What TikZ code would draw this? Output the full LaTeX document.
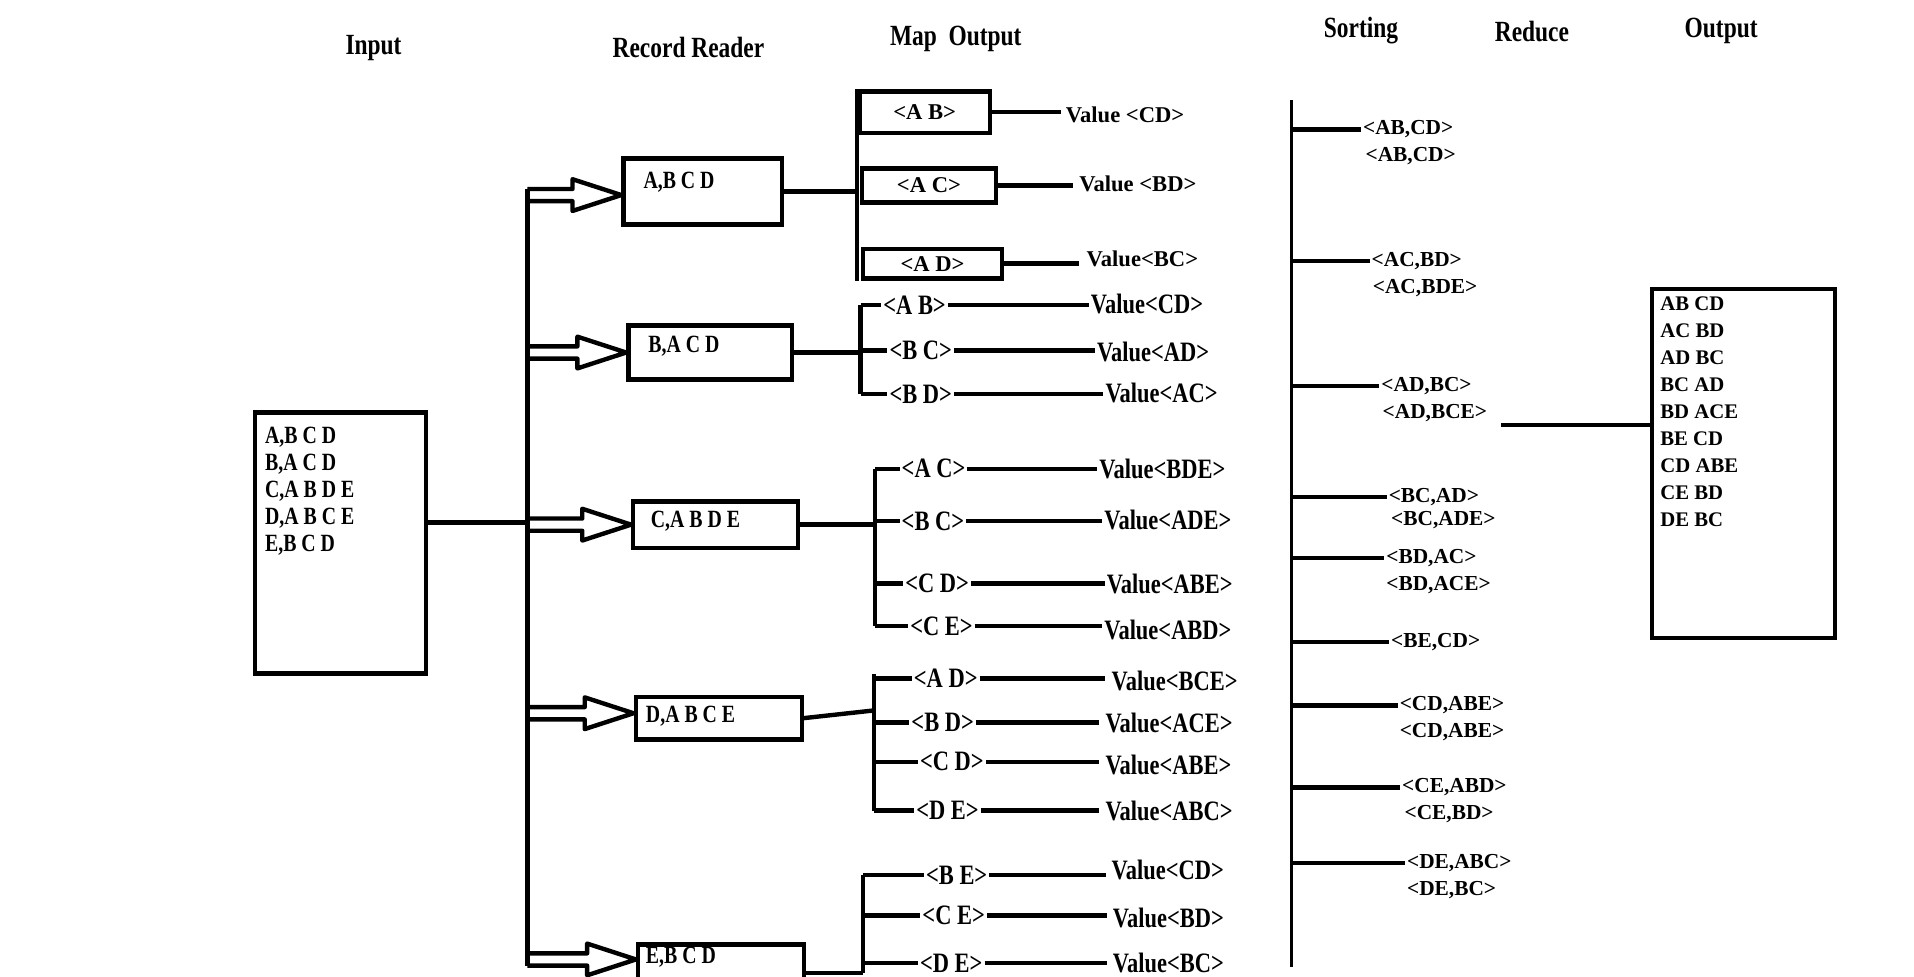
\documentclass[tikz,border=0pt]{standalone}
\usepackage{fontspec}
\setmainfont{Liberation Serif}
\newfontfamily\condf[FakeStretch=0.8]{Liberation Serif}
\usetikzlibrary{calc}
\begin{document}
\begin{tikzpicture}[x=1pt,y=-1pt,
  every node/.style={inner sep=0pt},
  ln/.style={line width=3.6pt},
  frame/.style={draw,line width=3.6pt},
  ttl/.style={font=\condf\bfseries\fontsize{24}{28}\selectfont},
  rec/.style={font=\condf\bfseries\fontsize{20.3}{22}\selectfont,anchor=west},
  kv/.style={font=\condf\bfseries\fontsize{23}{26}\selectfont,anchor=west,inner xsep=1.5pt},
  wd/.style={font=\bfseries\fontsize{18.5}{22}\selectfont},
  srt/.style={font=\bfseries\fontsize{17.5}{21}\selectfont,anchor=west,inner xsep=1.5pt},
  outt/.style={font=\bfseries\fontsize{17}{22.2}\selectfont}]
\useasboundingbox (0,0) rectangle (1568,800);
\fill[white] (0,0) rectangle (1568,800);

% titles
\node[ttl] (tIn) at (306,39) {Input};
\node[ttl] (tRR) at (564,39) {Record Reader};
\node[ttl] (tMO) at (783,32) {Map~~Output};
\node[ttl] (tSo) at (1115,25) {Sorting};
\node[ttl] (tRe) at (1255,26) {Reduce};
\node[ttl] (tOu) at (1410,25) {Output};

% input
\node[frame, minimum width=140pt, minimum height=214pt, anchor=north west] (inp) at (207,336) {};
\node[rec, anchor=north west, align=left] (inpT) at (217,350) {A,B C D\\B,A C D\\C,A B D E\\D,A B C E\\E,B C D};

\coordinate (trunk) at (432,428);
\coordinate (inJ) at ($(inp.north east)+(0,92)$);
\draw[ln] (inJ) -- (inJ -| trunk);

% record reader boxes
\node[frame, minimum width=130pt, minimum height=54pt, anchor=north west] (rA) at (509,128) {};
\node[rec] (rAt) at (527,149) {A,B C D};
\node[frame, minimum width=134pt, minimum height=44pt, anchor=north west] (rB) at (513,265) {};
\node[rec] (rBt) at (531,284) {B,A C D};
\node[frame, minimum width=135pt, minimum height=38pt, anchor=north west] (rC) at (517,409) {};
\node[rec] (rCt) at (533,427) {C,A B D E};
\node[frame, minimum width=136pt, minimum height=35pt, anchor=north west] (rD) at (519,569) {};
\node[rec] (rDt) at (529,587) {D,A B C E};
\node[frame, minimum width=136pt, minimum height=60pt, anchor=north west] (rE) at (521,772) {};
\node[rec] (rEt) at (529,784) {E,B C D};

% hollow arrows
\coordinate (tA) at ($(rA.west)+(0,3)$);
\coordinate (tB) at (rB.west);
\coordinate (tC) at (rC.west);
\coordinate (tD) at ($(rD.west)+(0,-4)$);
\coordinate (tE) at ($(rE.north west)+(0,14)$);
\newcommand\harrow[1]{\draw[ln,line join=round] ($(#1 -| trunk)+(0,-5)$) -- ($(#1)+(-40,-5)$) -- ($(#1)+(-40,-13)$) -- (#1) -- ($(#1)+(-40,13)$) -- ($(#1)+(-40,5)$) -- ($(#1 -| trunk)+(0,5)$);}
\harrow{tA}\harrow{tB}\harrow{tC}\harrow{tD}\harrow{tE}
\draw[ln] ($(tA -| trunk)+(0,-5)$) -- ($(tE -| trunk)+(0,5)$);

% group A
\node[frame, wd, minimum width=107pt, minimum height=34pt] (mAB) at (757.5,92) {<A B>};
\node[frame, wd, minimum width=110pt, minimum height=28pt] (mAC) at (761,152) {<A C>};
\node[frame, wd, minimum width=114pt, minimum height=24pt] (mAD) at (764,216) {<A D>};
\node[wd, anchor=west] (vAB) at (873,94) {Value <CD>};
\node[wd, anchor=west] (vAC) at (884,151) {Value <BD>};
\node[wd, anchor=west] (vAD) at (890,212) {Value<BC>};
\draw[ln] (mAB.east) -- ($(mAB.east -| vAB.west)+(-4,0)$);
\draw[ln] (mAC.east) -- ($(mAC.east -| vAC.west)+(-5,0)$);
\draw[ln] (mAD.east) -- ($(mAD.east -| vAD.west)+(-6,0)$);
\draw[ln] (mAB.north west) -- (mAB.north west |- mAD.south);
\draw[ln] (rA.east) -- (rA.east -| mAB.west);

% group B
\coordinate (bB) at (705,287);
\draw[ln] (rB.east) -- (rB.east -| bB);
\node[kv] (lB1) at (722,250) {<A B>};
\node[kv] (lB2) at (727,287) {<B C>};
\node[kv] (lB3) at (727,323) {<B D>};
\node[kv] (vB1) at (892,249) {Value<CD>};
\node[kv] (vB2) at (897,288) {Value<AD>};
\node[kv] (vB3) at (904,322) {Value<AC>};
\draw[ln] (bB |- lB1) -- (bB |- lB3);
\foreach \i in {1,2,3} {\draw[ln] (bB |- lB\i) -- (lB\i.west); \draw[ln] (lB\i.east) -- (lB\i.east -| vB\i.west);}

% group C
\coordinate (bC) at (717,428);
\draw[ln] (rC.east) -- (rC.east -| bC);
\node[kv] (lC1) at (737,384) {<A C>};
\node[kv] (lC2) at (737,427) {<B C>};
\node[kv] (lC3) at (740,478) {<C D>};
\node[kv] (lC4) at (744,513) {<C E>};
\node[kv] (vC1) at (899,384) {Value<BDE>};
\node[kv] (vC2) at (903,426) {Value<ADE>};
\node[kv] (vC3) at (905,478) {Value<ABE>};
\node[kv] (vC4) at (903,516) {Value<ABD>};
\draw[ln] (bC |- lC1) -- (bC |- lC4);
\foreach \i in {1,...,4} {\draw[ln] (bC |- lC\i) -- (lC\i.west); \draw[ln] (lC\i.east) -- (lC\i.east -| vC\i.west);}

% group D
\coordinate (bD) at (716,582);
\draw[ln] (rD.east) -- (bD);
\node[kv] (lD1) at (747,556) {<A D>};
\node[kv] (lD2) at (745,592) {<B D>};
\node[kv] (lD3) at (752,624) {<C D>};
\node[kv] (lD4) at (749,664) {<D E>};
\node[kv] (vD1) at (909,558) {Value<BCE>};
\node[kv] (vD2) at (904,592) {Value<ACE>};
\node[kv] (vD3) at (904,627) {Value<ABE>};
\node[kv] (vD4) at (904,664) {Value<ABC>};
\draw[ln] ($(bD |- lD1)+(0,-4)$) -- (bD |- lD4);
\foreach \i in {1,...,4} {\draw[ln] (bD |- lD\i) -- (lD\i.west); \draw[ln] (lD\i.east) -- ($(lD\i.east -| vD\i.west)+(-4,0)$);}

% group E
\coordinate (bE) at (707,797);
\draw[ln] (bE -| rE.east) -- (bE);
\node[kv] (lE1) at (757,717) {<B E>};
\node[kv] (lE2) at (754,750) {<C E>};
\node[kv] (lE3) at (752,789) {<D E>};
\node[kv] (vE1) at (909,713) {Value<CD>};
\node[kv] (vE2) at (910,752) {Value<BD>};
\node[kv] (vE3) at (910,789) {Value<BC>};
\draw[ln] (bE |- lE1) -- (bE);
\foreach \i in {1,2,3} {\draw[ln] (bE |- lE\i) -- (lE\i.west); \draw[ln] (lE\i.east) -- ($(lE\i.east -| vE\i.west)+(-3,0)$);}

% sorting
\coordinate (sTop) at (1058,82);
\coordinate (sBot) at (1058,792);
\draw[line width=3.2pt] (sTop) -- (sBot);
\node[srt] (s1) at (1115,106) {<AB,CD>};
\node[srt] (u1) at (1117,128) {<AB,CD>};
\node[srt] (s2) at (1122,214) {<AC,BD>};
\node[srt] (u2) at (1123,236) {<AC,BDE>};
\node[srt] (s3) at (1130,316) {<AD,BC>};
\node[srt] (u3) at (1131,338) {<AD,BCE>};
\node[srt] (s4) at (1136,407) {<BC,AD>};
\node[srt] (u4) at (1138,426) {<BC,ADE>};
\node[srt] (s5) at (1134,457) {<BD,AC>};
\node[srt] (u5) at (1134,479) {<BD,ACE>};
\node[srt] (s6) at (1138,526) {<BE,CD>};
\node[srt] (s7) at (1145,578) {<CD,ABE>};
\node[srt] (u7) at (1145,600) {<CD,ABE>};
\node[srt] (s8) at (1147,645) {<CE,ABD>};
\node[srt] (u8) at (1149,667) {<CE,BD>};
\node[srt] (s9) at (1151,707) {<DE,ABC>};
\node[srt] (u9) at (1151,729) {<DE,BC>};
\foreach \i in {1,...,9} {\draw[ln] (sTop |- s\i.west) -- (s\i.west);}

% reduce / output
\node[frame, line width=3.2pt, minimum width=150pt, minimum height=286pt, anchor=north west] (outb) at (1352,235) {};
\coordinate (red) at (1230,348);
\draw[ln] (red) -- (red -| outb.west);
\node[outt, anchor=north west, align=left] (outT) at (1360,242.5) {AB CD\\AC BD\\AD BC\\BC AD\\BD ACE\\BE CD\\CD ABE\\CE BD\\DE BC};
\end{tikzpicture}
\end{document}
